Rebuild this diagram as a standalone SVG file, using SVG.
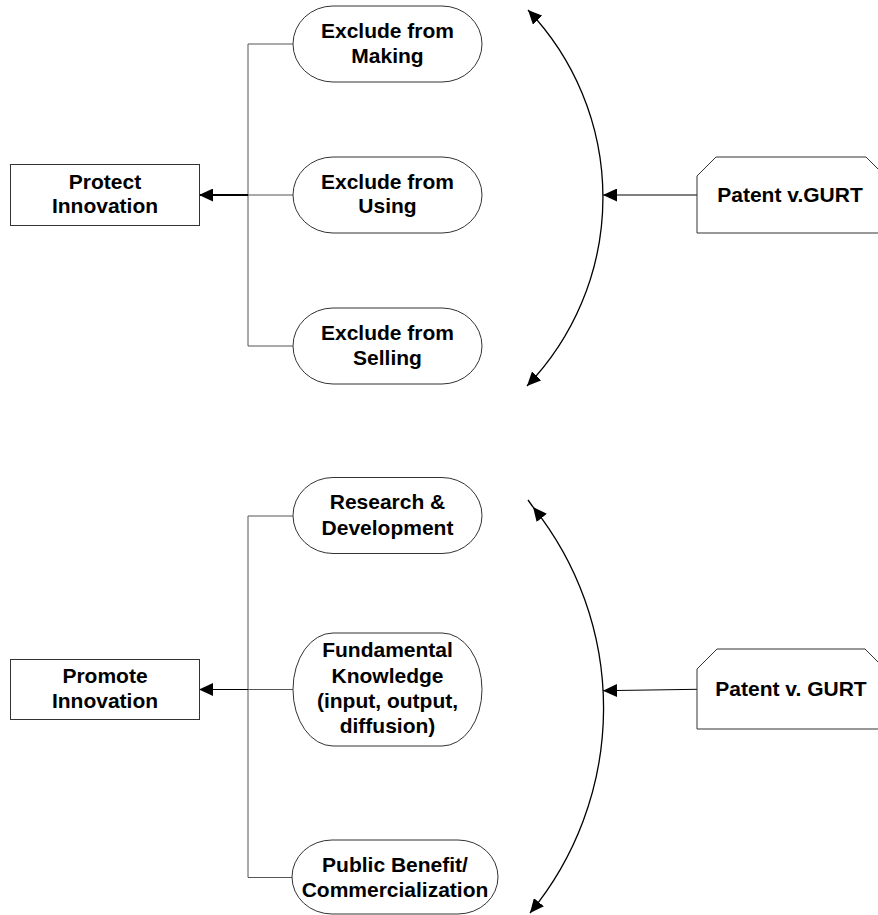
<svg xmlns="http://www.w3.org/2000/svg" width="878" height="915" viewBox="0 0 878 915">
<style>
.shape{fill:#fff;stroke:#333;stroke-width:1}
.t{font-family:"Liberation Sans",Arial,sans-serif;font-weight:bold;font-size:21px;fill:#000;text-anchor:middle}
.conn{fill:none;stroke:#555;stroke-width:1}
.arc{fill:none;stroke:#000;stroke-width:1.3}
.arr{fill:none;stroke:#000;stroke-width:1}
</style>
<defs>
<marker id="ah" viewBox="0 0 14 13" refX="14" refY="6.5" markerWidth="14" markerHeight="13" markerUnits="userSpaceOnUse" orient="auto-start-reverse">
<path d="M0,0 L14,6.5 L0,13 z" fill="#000"/>
</marker>
</defs>
<g id="connectors">
<path class="conn" d="M293,44 H248 V346 H293"/>
<path class="conn" d="M293,195 H248"/>
<path d="M248,195 H199" fill="none" stroke="#000" stroke-width="2" marker-end="url(#ah)"/>
<path class="arc" d="M528,10 A272,272 0 0 1 527,386" marker-start="url(#ah)" marker-end="url(#ah)"/>
<path class="arr" d="M697,195 H603" marker-end="url(#ah)"/>
<path class="conn" d="M293,516 H248 V877.5 H292"/>
<path class="conn" d="M293,689.5 H248"/>
<path class="arr" d="M248,689.5 H199" marker-end="url(#ah)"/>
<path class="arc" d="M528,500 L533,507"/>
<path class="arc" d="M533,507 A322,322 0 0 1 530,913" marker-start="url(#ah)" marker-end="url(#ah)"/>
<path class="arr" d="M697,689.3 L603,690.7" marker-end="url(#ah)"/>
</g>
<g id="protect">
<rect class="shape" x="10.5" y="164.5" width="189" height="61"/>
<text class="t" x="105" y="189.3">Protect</text>
<text class="t" x="105" y="213.3">Innovation</text>
</g>
<g id="making">
<path class="shape" d="M333,6 H442 A40,38 0 0 1 442,82 H333 A40,38 0 0 1 333,6 Z"/>
<text class="t" x="387.5" y="37.7">Exclude from</text>
<text class="t" x="387.5" y="63.3">Making</text>
</g>
<g id="using">
<path class="shape" d="M333,157 H442 A40,38 0 0 1 442,233 H333 A40,38 0 0 1 333,157 Z"/>
<text class="t" x="387.5" y="189.3">Exclude from</text>
<text class="t" x="387.5" y="213.3">Using</text>
</g>
<g id="selling">
<path class="shape" d="M333,308 H442 A40,38 0 0 1 442,384 H333 A40,38 0 0 1 333,308 Z"/>
<text class="t" x="387.5" y="340">Exclude from</text>
<text class="t" x="387.5" y="364.5">Selling</text>
</g>
<g id="patent1">
<path class="shape" d="M697,176 L716,157 H866 L885,176 V233 H697 Z"/>
<text class="t" x="790" y="201.7">Patent v.GURT</text>
</g>
<g id="promote">
<rect class="shape" x="10.5" y="659.5" width="189" height="60"/>
<text class="t" x="105" y="682.7">Promote</text>
<text class="t" x="105" y="708.3">Innovation</text>
</g>
<g id="rnd">
<path class="shape" d="M333,477.5 H442 A40,38 0 0 1 442,553.5 H333 A40,38 0 0 1 333,477.5 Z"/>
<text class="t" x="387.5" y="509">Research &amp;</text>
<text class="t" x="387.5" y="535">Development</text>
</g>
<g id="fundamental">
<path class="shape" d="M333,633 H442 A40,56.5 0 0 1 442,746 H333 A40,56.5 0 0 1 333,633 Z"/>
<text class="t" x="387.5" y="657.3">Fundamental</text>
<text class="t" x="387.5" y="682.7">Knowledge</text>
<text class="t" x="387.5" y="708.3">(input, output,</text>
<text class="t" x="387.5" y="733.3">diffusion)</text>
</g>
<g id="public">
<path class="shape" d="M332,840 H458 A40,37 0 0 1 458,914 H332 A40,37 0 0 1 332,840 Z"/>
<text class="t" x="395" y="871.7">Public Benefit/</text>
<text class="t" x="395" y="896.7">Commercialization</text>
</g>
<g id="patent2">
<path class="shape" d="M697,669 L717,649 H865 L885,669 V729 H697 Z"/>
<text class="t" x="791" y="696">Patent v. GURT</text>
</g>
</svg>
